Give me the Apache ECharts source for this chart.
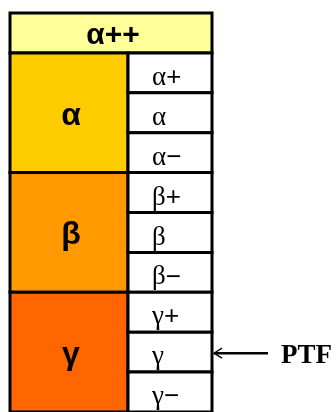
<!DOCTYPE html>
<html>
<head>
<meta charset="utf-8">
<script src="https://cdn.jsdelivr.net/npm/echarts@6/dist/echarts.min.js"></script>
<style>
    html, body { margin: 0; padding: 0; background: #fff; }
    #main { width: 336px; height: 412px; }
</style>
</head>
<body>
<div id="main"></div>
<script>
var headerLabel = 'α++';
var groupLabels = ['α', 'β', 'γ'];
var groupColors = ['#ffcc00', '#ff9900', '#ff6600'];
var subLabels = [
    ['α+', 'α', 'α−'],
    ['β+', 'β', 'β−'],
    ['γ+', 'γ', 'γ−']
];
var pointerTarget = 'γ';
var pointerText = 'PTF';

(function (win) {
    var SPLIT = 118 / 202;   // 左列宽度占比
    var cells = [];
    // 表头
    cells.push([0, 1, 0, 1, headerLabel, '#ffff99', 'head']);
    var row = 1;
    var pointerRow = 0;
    for (var i = 0; i < groupLabels.length; i++) {
        cells.push([0, SPLIT, row, row + subLabels[i].length, groupLabels[i], groupColors[i], 'group']);
        for (var j = 0; j < subLabels[i].length; j++) {
            cells.push([SPLIT, 1, row + j, row + j + 1, subLabels[i][j], '#ffffff', 'sub']);
            if (subLabels[i][j] === pointerTarget) {
                pointerRow = row + j + 0.5;
            }
        }
        row += subLabels[i].length;
    }

    // 子标签: 希腊字母用衬线体, 加减号用无衬线体
    function subText(s) {
        var out = '{g|' + s.charAt(0) + '}';
        if (s.length > 1) {
            out += '{s|' + s.slice(1) + '}';
        }
        return out;
    }

    var chart = echarts.init(document.getElementById('main'));
    chart.setOption({
        animation: false,
        grid: { left: 10, top: 13, width: 202, height: 406 },
        xAxis: { type: 'value', min: 0, max: 1, show: false },
        yAxis: { type: 'value', min: 0, max: 10, inverse: true, show: false },
        series: [{
            type: 'custom',
            data: cells,
            renderItem: function (params, api) {
                var p0 = api.coord([api.value(0), api.value(2)]);
                var p1 = api.coord([api.value(1), api.value(3)]);
                var d = cells[params.dataIndex];
                var kind = d[6];
                var txt;
                if (kind === 'sub') {
                    txt = {
                        text: subText(d[4]),
                        x: p0[0] + 24, y: (p0[1] + p1[1]) / 2 + 5,
                        align: 'left', verticalAlign: 'middle',
                        rich: {
                            g: { fontFamily: 'Liberation Serif', fontSize: 27, fill: '#000' },
                            s: { fontFamily: 'Liberation Sans', fontSize: 26, fill: '#000' }
                        }
                    };
                } else {
                    txt = {
                        text: d[4],
                        x: (p0[0] + p1[0]) / 2 + 2,
                        y: (p0[1] + p1[1]) / 2 + (kind === 'head' ? 3 : 3),
                        align: 'center', verticalAlign: 'middle',
                        fontFamily: 'Liberation Sans', fontWeight: 'bold',
                        fontSize: kind === 'head' ? 30 : 32, fill: '#000'
                    };
                }
                return {
                    type: 'group',
                    children: [{
                        type: 'rect',
                        shape: { x: p0[0], y: p0[1], width: p1[0] - p0[0], height: p1[1] - p0[1] },
                        style: { fill: d[5], stroke: '#000', lineWidth: 3 }
                    }, {
                        type: 'text',
                        style: txt
                    }]
                };
            }
        }, {
            type: 'custom',
            data: [[1, pointerRow]],
            renderItem: function (params, api) {
                var p = api.coord([api.value(0), api.value(1)]);
                var x = p[0] + 2, y = p[1] + 1;
                return {
                    type: 'group',
                    children: [{
                        type: 'line',
                        shape: { x1: x, y1: y, x2: x + 54, y2: y },
                        style: { stroke: '#000', lineWidth: 2.5 }
                    }, {
                        type: 'polyline',
                        shape: { points: [[x + 8, y - 5], [x, y], [x + 8, y + 5]] },
                        style: { stroke: '#000', lineWidth: 1.3, fill: null }
                    }, {
                        type: 'text',
                        style: {
                            text: pointerText, x: x + 67, y: y + 3, fill: '#000',
                            fontFamily: 'Liberation Serif', fontWeight: 'bold', fontSize: 27,
                            align: 'left', verticalAlign: 'middle'
                        }
                    }]
                };
            }
        }]
    });
})(window);
</script>
</body>
</html>
